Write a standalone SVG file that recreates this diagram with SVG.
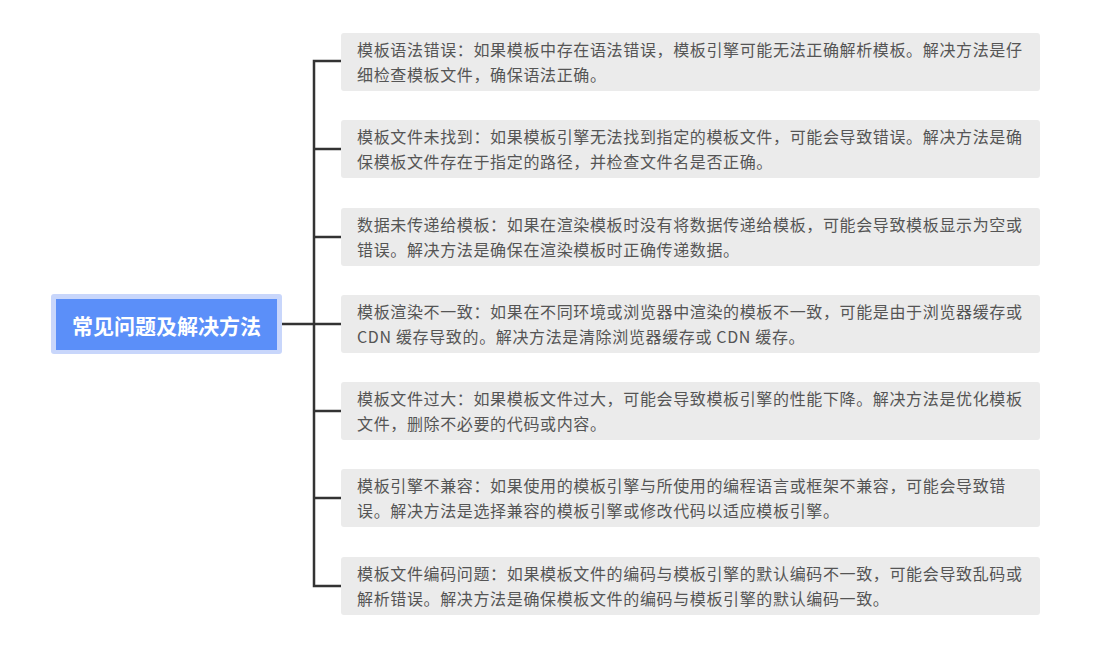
<svg xmlns="http://www.w3.org/2000/svg" width="1105" height="646" viewBox="0 0 1105 646">
<style>
.box{fill:#ebebeb;}
.t{font-family:"Noto Sans CJK SC","Noto Sans",sans-serif;font-size:16px;fill:#555;font-weight:normal;letter-spacing:0.64px;}
.ln{stroke:#333;stroke-width:2.5;fill:none;}
</style>
<rect width="1105" height="646" fill="#fff"/>
<g id="connectors">
<line class="ln" x1="281" y1="324" x2="314" y2="324"/>
<polyline class="ln" points="341,61 314,61 314,586 341,586"/>
<line class="ln" x1="314" y1="149" x2="341" y2="149"/>
<line class="ln" x1="314" y1="237" x2="341" y2="237"/>
<line class="ln" x1="314" y1="324" x2="341" y2="324"/>
<line class="ln" x1="314" y1="411" x2="341" y2="411"/>
<line class="ln" x1="314" y1="498" x2="341" y2="498"/>
</g>
<g id="root">
<rect x="51" y="294" width="231" height="60" rx="3" fill="#c8d6fb"/>
<rect x="56" y="299" width="221" height="51" fill="#5b8ff9"/>
<text x="166.5" y="334" text-anchor="middle" font-family="Noto Sans CJK SC,sans-serif" font-size="21" font-weight="bold" fill="#fff">常见问题及解决方法</text>
</g>
<g id="n1">
<rect class="box" x="341" y="33" width="699" height="58" rx="3"/>
<text class="t" x="357" y="56">模板语法错误：如果模板中存在语法错误，模板引擎可能无法正确解析模板。解决方法是仔</text>
<text class="t" x="357" y="81">细检查模板文件，确保语法正确。</text>
</g>
<g id="n2">
<rect class="box" x="341" y="120" width="699" height="58" rx="3"/>
<text class="t" x="357" y="143">模板文件未找到：如果模板引擎无法找到指定的模板文件，可能会导致错误。解决方法是确</text>
<text class="t" x="357" y="168">保模板文件存在于指定的路径，并检查文件名是否正确。</text>
</g>
<g id="n3">
<rect class="box" x="341" y="208" width="699" height="58" rx="3"/>
<text class="t" x="357" y="231">数据未传递给模板：如果在渲染模板时没有将数据传递给模板，可能会导致模板显示为空或</text>
<text class="t" x="357" y="256">错误。解决方法是确保在渲染模板时正确传递数据。</text>
</g>
<g id="n4">
<rect class="box" x="341" y="295" width="699" height="58" rx="3"/>
<text class="t" x="357" y="318">模板渲染不一致：如果在不同环境或浏览器中渲染的模板不一致，可能是由于浏览器缓存或</text>
<text class="t" x="357" y="343">CDN 缓存导致的。解决方法是清除浏览器缓存或 CDN 缓存。</text>
</g>
<g id="n5">
<rect class="box" x="341" y="382" width="699" height="58" rx="3"/>
<text class="t" x="357" y="405">模板文件过大：如果模板文件过大，可能会导致模板引擎的性能下降。解决方法是优化模板</text>
<text class="t" x="357" y="430">文件，删除不必要的代码或内容。</text>
</g>
<g id="n6">
<rect class="box" x="341" y="469" width="699" height="58" rx="3"/>
<text class="t" x="357" y="492">模板引擎不兼容：如果使用的模板引擎与所使用的编程语言或框架不兼容，可能会导致错</text>
<text class="t" x="357" y="517">误。解决方法是选择兼容的模板引擎或修改代码以适应模板引擎。</text>
</g>
<g id="n7">
<rect class="box" x="341" y="557" width="699" height="58" rx="3"/>
<text class="t" x="357" y="580">模板文件编码问题：如果模板文件的编码与模板引擎的默认编码不一致，可能会导致乱码或</text>
<text class="t" x="357" y="605">解析错误。解决方法是确保模板文件的编码与模板引擎的默认编码一致。</text>
</g>
</svg>
